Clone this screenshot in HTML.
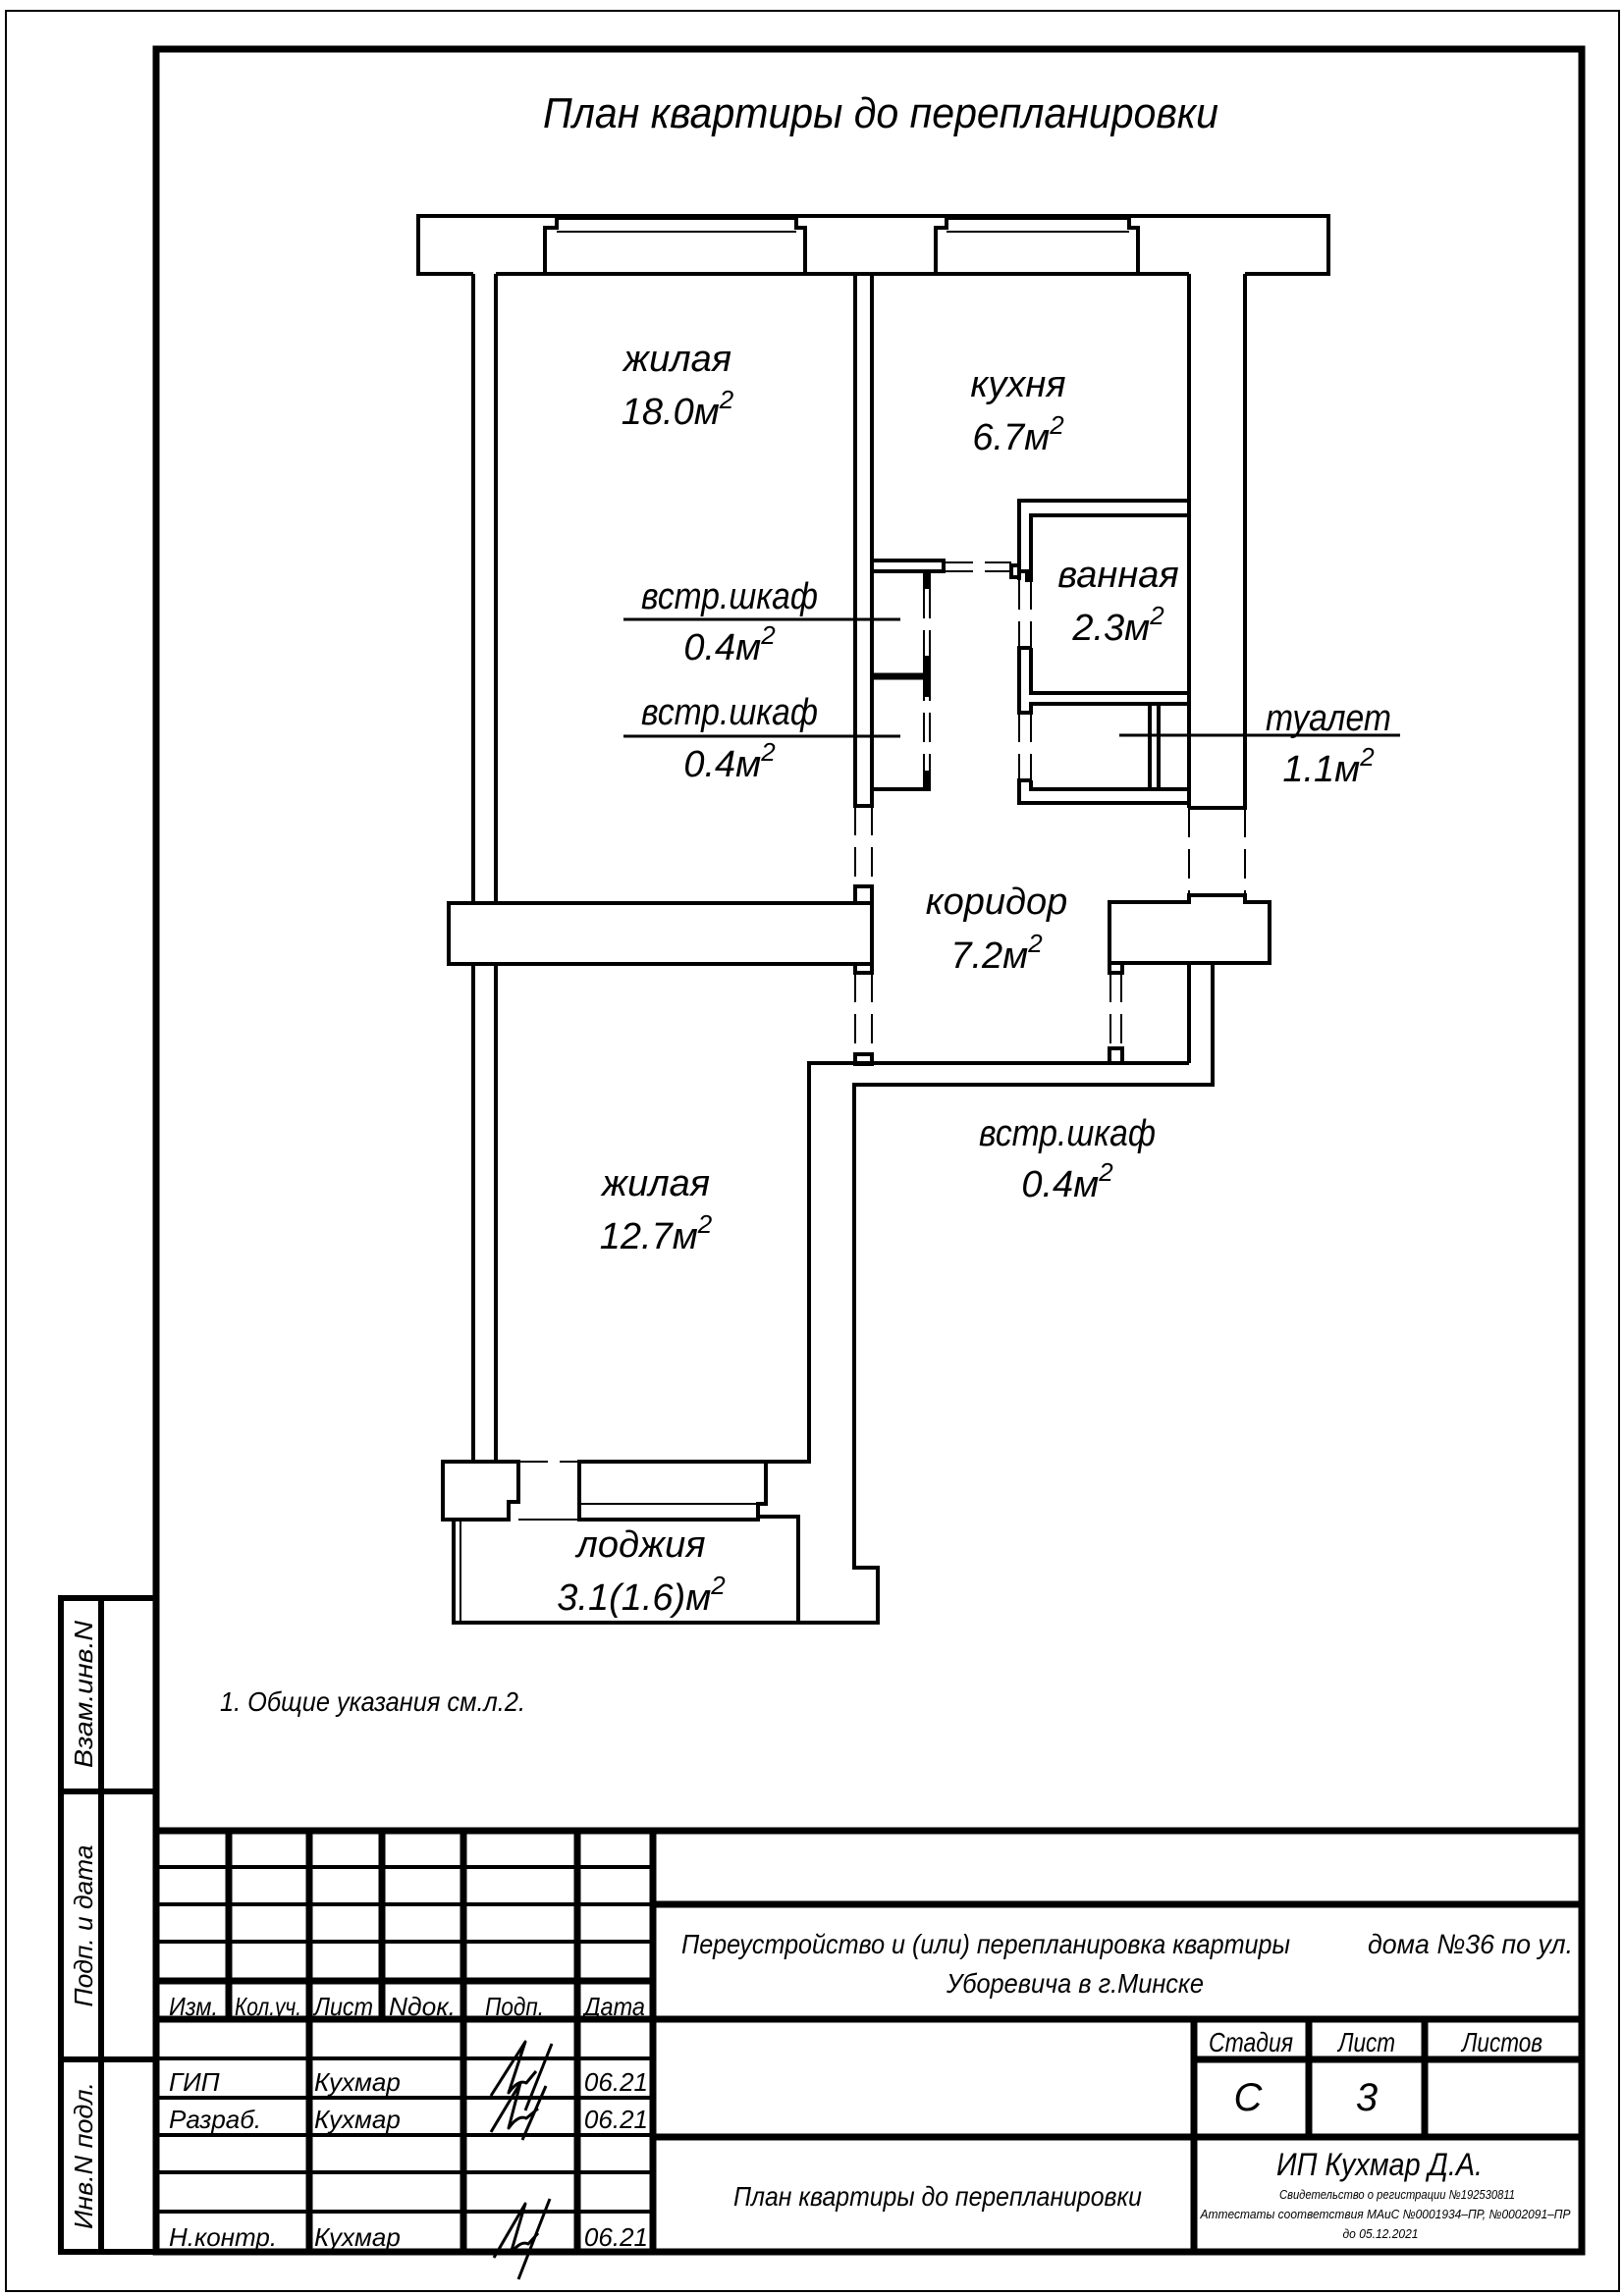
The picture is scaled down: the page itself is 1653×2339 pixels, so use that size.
<!DOCTYPE html>
<html><head><meta charset="utf-8"><style>
html,body{margin:0;padding:0;background:#fff}
svg{display:block}
text{font-family:"Liberation Sans Narrow","Liberation Sans","DejaVu Sans",sans-serif;font-style:italic;fill:#000}
</style></head><body>
<svg width="1653" height="2339" viewBox="0 0 1653 2339" xmlns="http://www.w3.org/2000/svg">
<rect x="0" y="0" width="1653" height="2339" fill="#fff"/>
<rect x="6" y="11" width="1643" height="2323" fill="none" stroke="#000" stroke-width="2"/>
<rect x="159" y="50" width="1452" height="2244" fill="none" stroke="#000" stroke-width="7"/>
<g fill="none" stroke="#000" stroke-width="6">
<path d="M159,1628 H62 V2294 H159"/>
<line x1="103" y1="1628" x2="103" y2="2294"/>
<line x1="62" y1="1825" x2="159" y2="1825"/>
<line x1="62" y1="2098" x2="159" y2="2098"/>
</g>
<text transform="translate(94,1726) rotate(-90)" font-size="26" text-anchor="middle" textLength="150" lengthAdjust="spacingAndGlyphs">Взам.инв.N</text>
<text transform="translate(94,1962) rotate(-90)" font-size="26" text-anchor="middle" textLength="165" lengthAdjust="spacingAndGlyphs">Подп. и дата</text>
<text transform="translate(94,2196) rotate(-90)" font-size="26" text-anchor="middle" textLength="150" lengthAdjust="spacingAndGlyphs">Инв.N подл.</text>

<text x="897" y="130" font-size="44" text-anchor="middle" textLength="688" lengthAdjust="spacingAndGlyphs">План квартиры до перепланировки</text>

<g fill="none" stroke="#000" stroke-width="4" stroke-linejoin="miter">
<path d="M482,279 H426 V220 H1353 V279 H1268"/>
<line x1="505" y1="279" x2="555" y2="279"/>
<line x1="820" y1="279" x2="871" y2="279"/>
<line x1="888" y1="279" x2="953" y2="279"/>
<line x1="1159" y1="279" x2="1211" y2="279"/>
<path d="M555,279 V232 H567 V222 H811 V232 H820 V279 Z" fill="#fff"/>
<line x1="567" y1="236" x2="811" y2="236" stroke-width="2"/>
<path d="M953,279 V232 H964 V222 H1150 V232 H1159 V279 Z" fill="#fff"/>
<line x1="964" y1="236" x2="1150" y2="236" stroke-width="2"/>
<line x1="482" y1="279" x2="482" y2="920"/>
<line x1="505" y1="279" x2="505" y2="920"/>
<line x1="482" y1="982" x2="482" y2="1489"/>
<line x1="505" y1="982" x2="505" y2="1489"/>
<rect x="871" y="279" width="17" height="542"/>
<rect x="871" y="903" width="17" height="17"/>
<rect x="457" y="920" width="431" height="62"/>
<rect x="871" y="982" width="17" height="9"/>
<rect x="871" y="1074" width="17" height="10"/>
<line x1="1211" y1="279" x2="1211" y2="823"/>
<path d="M1268,279 V823 H1211"/>
<path d="M1211,510 H1038 V582 H1046 V591 H1050 V525 H1211"/>
<line x1="1038" y1="582" x2="1038" y2="591"/>
<path d="M1050,660 H1038 V726 H1050 V717 H1211"/>
<path d="M1050,660 V706 H1211"/>
<path d="M1050,795 H1038 V818 H1211"/>
<path d="M1050,795 V804 H1211"/>
<rect x="1171" y="717" width="9" height="87"/>
<rect x="888" y="571" width="73" height="11"/>
<line x1="888" y1="804" x2="947" y2="804"/>
<line x1="888" y1="689" x2="944" y2="689" stroke-width="7"/>
<rect x="1030" y="576" width="8" height="12"/>
<path d="M1130,919 H1211 V912 H1268 V919 H1293 V981 H1130 Z"/>
<line x1="1211" y1="981" x2="1211" y2="1083"/>
<rect x="1130" y="981" width="13" height="10"/>
<rect x="1130" y="1068" width="13" height="15"/>
<path d="M590,1489 H824 V1083 H1211"/>
<path d="M1235,981 V1105 H870 V1597 H894 V1653 H462 V1548"/>
<line x1="469" y1="1548" x2="469" y2="1653" stroke-width="2"/>
<path d="M813,1653 V1545 H590"/>
<path d="M451,1489 H528 V1530 H518 V1548 H451 Z"/>
<path d="M590,1489 H780 V1532 H772 V1548 H590 Z" fill="#fff"/>
<line x1="590" y1="1532" x2="772" y2="1532" stroke-width="2"/>
<line x1="528" y1="1548" x2="590" y2="1548" stroke-width="2"/>
</g>
<g stroke="#000" stroke-width="2" stroke-dasharray="30,12" fill="none">
<line x1="871" y1="821" x2="871" y2="903"/><line x1="888" y1="821" x2="888" y2="903"/>
<line x1="871" y1="991" x2="871" y2="1074"/><line x1="888" y1="991" x2="888" y2="1074"/>
<line x1="1211" y1="823" x2="1211" y2="912"/><line x1="1268" y1="823" x2="1268" y2="912"/>
<line x1="1131" y1="991" x2="1131" y2="1068"/><line x1="1142" y1="991" x2="1142" y2="1068"/>
<line x1="1038" y1="591" x2="1038" y2="660"/><line x1="1050" y1="591" x2="1050" y2="660"/>
<line x1="1038" y1="726" x2="1038" y2="795"/><line x1="1050" y1="726" x2="1050" y2="795"/>
<line x1="961" y1="573" x2="1030" y2="573"/><line x1="961" y1="582" x2="1030" y2="582"/>
<line x1="941" y1="600" x2="941" y2="785"/><line x1="947" y1="600" x2="947" y2="785"/>
<line x1="528" y1="1489" x2="590" y2="1489"/>
</g>
<g fill="#000">
<rect x="940" y="582" width="8" height="18"/>
<rect x="940" y="668" width="8" height="42"/>
<rect x="940" y="785" width="8" height="21"/>
</g>
<g stroke="#000" stroke-width="3">
<line x1="635" y1="631" x2="917" y2="631"/>
<line x1="635" y1="750" x2="917" y2="750"/>
<line x1="1140" y1="749" x2="1426" y2="749"/>
</g>

<g font-size="38" text-anchor="middle">
<text x="690" y="378">жилая</text>
<text x="690" y="432">18.0м<tspan dy="-16" font-size="26">2</tspan></text>
<text x="1037" y="404">кухня</text>
<text x="1037" y="458">6.7м<tspan dy="-16" font-size="26">2</tspan></text>
<text x="1139" y="598">ванная</text>
<text x="1139" y="652">2.3м<tspan dy="-16" font-size="26">2</tspan></text>
<text x="743" y="620" textLength="180" lengthAdjust="spacingAndGlyphs">встр.шкаф</text>
<text x="743" y="672">0.4м<tspan dy="-16" font-size="26">2</tspan></text>
<text x="743" y="738" textLength="180" lengthAdjust="spacingAndGlyphs">встр.шкаф</text>
<text x="743" y="791">0.4м<tspan dy="-16" font-size="26">2</tspan></text>
<text x="1353" y="744" textLength="128" lengthAdjust="spacingAndGlyphs">туалет</text>
<text x="1353" y="796">1.1м<tspan dy="-16" font-size="26">2</tspan></text>
<text x="1015" y="931">коридор</text>
<text x="1015" y="986">7.2м<tspan dy="-16" font-size="26">2</tspan></text>
<text x="1087" y="1167" textLength="180" lengthAdjust="spacingAndGlyphs">встр.шкаф</text>
<text x="1087" y="1219">0.4м<tspan dy="-16" font-size="26">2</tspan></text>
<text x="668" y="1218">жилая</text>
<text x="668" y="1272">12.7м<tspan dy="-16" font-size="26">2</tspan></text>
<text x="653" y="1586">лоджия</text>
<text x="653" y="1640">3.1(1.6)м<tspan dy="-16" font-size="26">2</tspan></text>
</g>
<text x="224" y="1743" font-size="28" textLength="311" lengthAdjust="spacingAndGlyphs">1.  Общие указания см.л.2.</text>

<g stroke="#000" fill="none">
<g stroke-width="7">
<line x1="159" y1="1865" x2="1611" y2="1865"/>
<line x1="159" y1="2057" x2="1611" y2="2057"/>
<line x1="665" y1="1865" x2="665" y2="2294"/>
<line x1="472" y1="1865" x2="472" y2="2294"/>
<line x1="588" y1="1865" x2="588" y2="2294"/>
<line x1="315" y1="1865" x2="315" y2="2294"/>
<line x1="665" y1="1940" x2="1611" y2="1940"/>
<line x1="665" y1="2177" x2="1611" y2="2177"/>
<line x1="1216" y1="2057" x2="1216" y2="2294"/>
<line x1="1333" y1="2057" x2="1333" y2="2177"/>
<line x1="1451" y1="2057" x2="1451" y2="2177"/>
<line x1="1216" y1="2098" x2="1611" y2="2098"/>
<line x1="233" y1="1865" x2="233" y2="2057"/>
<line x1="389" y1="1865" x2="389" y2="2057"/>
<line x1="159" y1="2018" x2="665" y2="2018"/>
</g>
<g stroke-width="4">
<line x1="159" y1="1902" x2="665" y2="1902"/>
<line x1="159" y1="1940" x2="665" y2="1940"/>
<line x1="159" y1="1978" x2="665" y2="1978"/>
<line x1="159" y1="2097" x2="665" y2="2097"/>
<line x1="159" y1="2137" x2="665" y2="2137"/>
<line x1="159" y1="2175" x2="665" y2="2175"/>
<line x1="159" y1="2213" x2="665" y2="2213"/>
<line x1="159" y1="2253" x2="665" y2="2253"/>
</g>
</g>
<g font-size="26">
<text x="172" y="2053" textLength="50" lengthAdjust="spacingAndGlyphs">Изм.</text>
<text x="239" y="2053" textLength="68" lengthAdjust="spacingAndGlyphs">Кол.уч.</text>
<text x="320" y="2053" textLength="60" lengthAdjust="spacingAndGlyphs">Лист</text>
<text x="396" y="2053" textLength="68" lengthAdjust="spacingAndGlyphs">Nдок.</text>
<text x="494" y="2053" textLength="60" lengthAdjust="spacingAndGlyphs">Подп.</text>
<text x="595" y="2053" textLength="62" lengthAdjust="spacingAndGlyphs">Дата</text>
<text x="172" y="2130">ГИП</text>
<text x="320" y="2130">Кухмар</text>
<text x="172" y="2168">Разраб.</text>
<text x="320" y="2168">Кухмар</text>
<text x="172" y="2288">Н.контр.</text>
<text x="320" y="2288">Кухмар</text>
<text x="660" y="2130" text-anchor="end">06.21</text>
<text x="660" y="2168" text-anchor="end">06.21</text>
<text x="660" y="2288" text-anchor="end">06.21</text>
</g>
<g stroke="#000" stroke-width="3" fill="none" stroke-linejoin="round">
<path d="M500,2135 L535,2080 L518,2132 Q528,2118 536,2122 L546,2110 M562,2082 L535,2150"/>
<path d="M500,2172 L530,2122 L518,2168 Q528,2154 536,2158 L548,2148 M556,2125 L532,2180"/>
<path d="M503,2300 L535,2245 L520,2296 Q530,2282 538,2286 L548,2275 M560,2240 L528,2322"/>
</g>
<g font-size="28">
<text x="694" y="1990" textLength="620" lengthAdjust="spacingAndGlyphs">Переустройство и (или) перепланировка квартиры</text>
<text x="1393" y="1990" textLength="209" lengthAdjust="spacingAndGlyphs">дома №36 по ул.</text>
<text x="1095" y="2030" text-anchor="middle" textLength="262" lengthAdjust="spacingAndGlyphs">Уборевича в г.Минске</text>
<text x="1274" y="2090" text-anchor="middle" textLength="86" lengthAdjust="spacingAndGlyphs">Стадия</text>
<text x="1392" y="2090" text-anchor="middle" textLength="58" lengthAdjust="spacingAndGlyphs">Лист</text>
<text x="1530" y="2090" text-anchor="middle" textLength="82" lengthAdjust="spacingAndGlyphs">Листов</text>
<text x="955" y="2247" text-anchor="middle" textLength="416" lengthAdjust="spacingAndGlyphs">План квартиры до перепланировки</text>
</g>
<text x="1271" y="2150" font-size="40" text-anchor="middle">С</text>
<text x="1392" y="2150" font-size="40" text-anchor="middle">3</text>
<text x="1405" y="2216" font-size="32" text-anchor="middle" textLength="210" lengthAdjust="spacingAndGlyphs">ИП Кухмар Д.А.</text>
<g font-size="13" text-anchor="middle">
<text x="1423" y="2240" textLength="240" lengthAdjust="spacingAndGlyphs">Свидетельство о регистрации №192530811</text>
<text x="1411" y="2260" textLength="377" lengthAdjust="spacingAndGlyphs">Аттестаты соответствия МАиС №0001934–ПР, №0002091–ПР</text>
<text x="1406" y="2280" textLength="77" lengthAdjust="spacingAndGlyphs">до 05.12.2021</text>
</g>
</svg>
</body></html>
